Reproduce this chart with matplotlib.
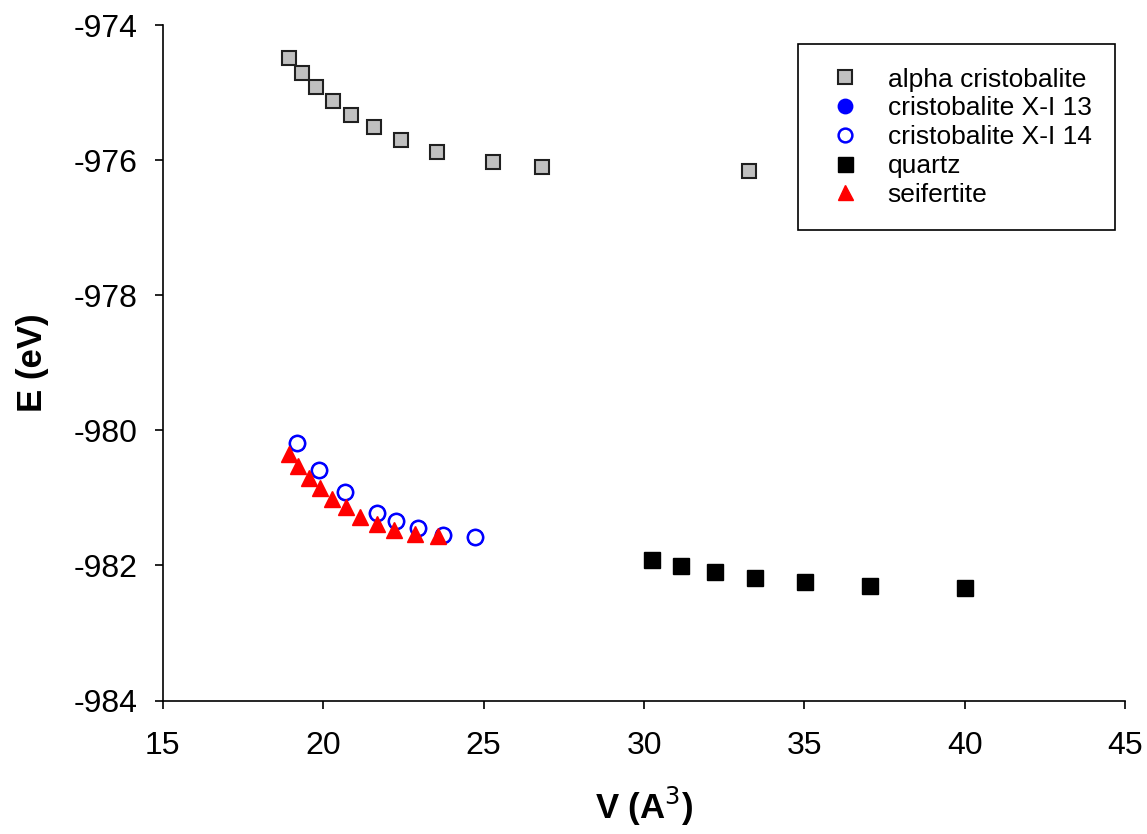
import matplotlib
matplotlib.use("Agg")
import matplotlib.pyplot as plt

plt.rcParams['font.family'] = ['Liberation Sans', 'DejaVu Sans']
plt.rcParams['axes.unicode_minus'] = False

# data
alpha_v = [18.93, 19.33, 19.77, 20.30, 20.86, 21.58, 22.42, 23.54, 25.29, 26.82, 33.27]
alpha_e = [-974.49, -974.71, -974.92, -975.13, -975.33, -975.51, -975.70, -975.88,
           -976.03, -976.10, -976.16]

x13_v = [19.19, 19.87, 20.68, 21.68, 22.27, 22.94, 23.74, 24.73]
x13_e = [-980.19, -980.58, -980.92, -981.23, -981.34, -981.45, -981.55, -981.58]

x14_v = [19.19, 19.87, 20.68, 21.68, 22.27, 22.94, 23.74, 24.73]
x14_e = [-980.19, -980.58, -980.92, -981.23, -981.34, -981.45, -981.55, -981.58]

quartz_v = [30.24, 31.16, 32.21, 33.45, 35.02, 37.05, 40.02]
quartz_e = [-981.92, -982.01, -982.09, -982.18, -982.25, -982.31, -982.34]

seif_v = [18.94, 19.22, 19.56, 19.90, 20.28, 20.71, 21.14, 21.66, 22.21, 22.86, 23.58]
seif_e = [-980.35, -980.53, -980.70, -980.86, -981.01, -981.14, -981.28, -981.38,
          -981.47, -981.53, -981.57]

fig = plt.figure(figsize=(11.47, 8.34), dpi=100)
ax = fig.add_axes([0.142, 0.160, 0.839, 0.810])

ax.plot(alpha_v, alpha_e, 's', ms=10.5, mfc='#c0c0c0', mec='#202020', mew=1.5,
        label='alpha cristobalite')
ax.plot(x13_v, x13_e, 'o', ms=11, mfc='blue', mec='blue', mew=1.5,
        label='cristobalite X-I 13')
ax.plot(x14_v, x14_e, 'o', ms=11, mfc='white', mec='blue', mew=1.8,
        label='cristobalite X-I 14')
ax.plot(quartz_v, quartz_e, 's', ms=12, mfc='black', mec='black',
        label='quartz')
ax.plot(seif_v, seif_e, '^', ms=12, mfc='red', mec='red',
        label='seifertite')

ax.set_xlim(15, 45)
ax.set_ylim(-984, -974)
ax.set_xticks(range(15, 46, 5))
ax.set_yticks(range(-984, -973, 2))

for s in ['top', 'right']:
    ax.spines[s].set_visible(False)
for s in ['left', 'bottom']:
    ax.spines[s].set_linewidth(1.2)
ax.tick_params(direction='out', length=6, width=1.2, labelsize=23)
ax.tick_params(axis='y', pad=12)
ax.tick_params(axis='x', pad=16)

ax.set_xlabel('V (A$^3$)', fontsize=25, fontweight='bold', labelpad=17)
ax.set_ylabel('E (eV)', fontsize=25, fontweight='bold', labelpad=18)

leg = ax.legend(loc='upper right', bbox_to_anchor=(0.9896, 0.972), fontsize=19,
                frameon=True, fancybox=False, edgecolor='black', framealpha=1,
                borderpad=0.9, labelspacing=0.18, handletextpad=0.7,
                borderaxespad=0, handlelength=1.8, markerscale=0.9)
leg.get_frame().set_linewidth(1.2)

fig.savefig('out.png', dpi=100)
